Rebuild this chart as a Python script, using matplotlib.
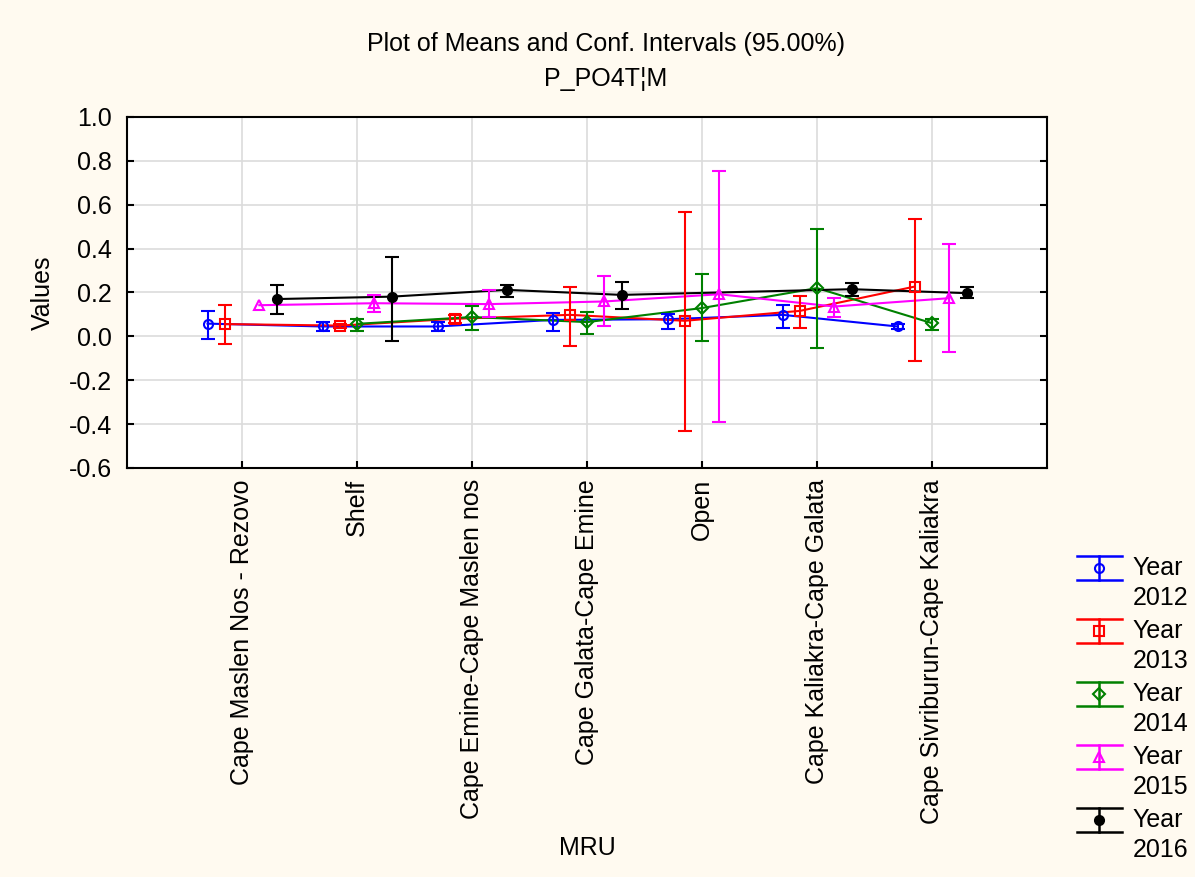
import numpy as np
import matplotlib
matplotlib.use('Agg')
import matplotlib.pyplot as plt
from matplotlib.legend_handler import HandlerBase
from matplotlib.container import ErrorbarContainer
from matplotlib.lines import Line2D

plt.rcParams['font.family'] = ['Liberation Sans', 'DejaVu Sans']

#категории и годы
mru = ['Cape Maslen Nos - Rezovo', 'Shelf', 'Cape Emine-Cape Maslen nos',
       'Cape Galata-Cape Emine', 'Open', 'Cape Kaliakra-Cape Galata',
       'Cape Sivriburun-Cape Kaliakra']
years = ['2012', '2013', '2014', '2015', '2016']
nan = np.nan

#средние значения
mean_2012 = [0.058, 0.045, 0.045, 0.075, 0.078, 0.098, 0.045]
mean_2013 = [0.056, 0.049, 0.080, 0.098, 0.071, 0.116, 0.227]
mean_2014 = [nan, 0.057, 0.088, 0.065, 0.129, 0.220, 0.060]
mean_2015 = [0.142, 0.151, 0.147, 0.159, 0.192, 0.136, 0.174]
mean_2016 = [0.170, 0.181, 0.212, 0.189, nan, 0.215, 0.197]

#нижние границы доверительного интервала
low_2012 = [-0.012, 0.024, 0.024, 0.026, 0.033, 0.037, 0.035]
low_2013 = [-0.036, 0.040, 0.062, -0.043, -0.431, 0.037, -0.112]
low_2014 = [nan, 0.026, 0.030, 0.011, -0.019, -0.051, 0.030]
low_2015 = [nan, 0.110, 0.086, 0.049, -0.391, 0.090, -0.071]
low_2016 = [0.103, -0.019, 0.179, 0.124, nan, 0.186, 0.174]

#верхние границы доверительного интервала
high_2012 = [0.115, 0.066, 0.067, 0.106, 0.103, 0.144, 0.055]
high_2013 = [0.143, 0.058, 0.098, 0.224, 0.569, 0.186, 0.535]
high_2014 = [nan, 0.080, 0.140, 0.110, 0.285, 0.490, 0.080]
high_2015 = [nan, 0.190, 0.212, 0.276, 0.754, 0.174, 0.420]
high_2016 = [0.235, 0.362, 0.235, 0.250, nan, 0.243, 0.227]

means = [mean_2012, mean_2013, mean_2014, mean_2015, mean_2016]
lows = [low_2012, low_2013, low_2014, low_2015, low_2016]
highs = [high_2012, high_2013, high_2014, high_2015, high_2016]

colors = ['#0000ff', '#ff0000', '#008000', '#ff00ff', '#000000']
markers = ['o', 's', 'D', '^', 'o']
faces = ['none', 'none', 'none', 'none', '#000000']
offsets = [-0.3, -0.15, 0.0, 0.15, 0.3]
fs = 18


class CapHandler(HandlerBase):
    #значок легенды: две широкие засечки, вертикальная линия и маркер
    def create_artists(self, legend, orig_handle, xdescent, ydescent, width, height, fontsize, trans):
        ln = orig_handle.lines[0]
        c = ln.get_markeredgecolor()
        x0 = -xdescent
        x1 = x0 + width
        cx = (x0 + x1) / 2
        cy = height / 2 - ydescent + fontsize * 0.62
        h = fontsize * 0.48
        arts = [Line2D([x0, x1], [cy + h, cy + h]), Line2D([x0, x1], [cy - h, cy - h]),
                Line2D([cx, cx], [cy - h, cy + h])]
        for a in arts:
            a.set_color(c)
            a.set_linewidth(1.8)
        arts.append(Line2D([cx], [cy], marker=ln.get_marker(), ls='none', mfc=ln.get_markerfacecolor(),
                           mec=c, ms=ln.get_markersize(), mew=1.5))
        for a in arts:
            a.set_transform(trans)
        return arts


fig = plt.figure(figsize=(11.95, 8.77), dpi=100, facecolor='#fffaf0')
ax = fig.add_axes([0.1063, 0.4664, 0.7699, 0.4002])
ax.set_facecolor('white')

pos = np.arange(1, len(mru) + 1)
for i in range(len(years)):
    m = np.array(means[i])
    lo = np.array(lows[i])
    hi = np.array(highs[i])
    x = pos + offsets[i]
    ok = ~np.isnan(m)
    #линия через все имеющиеся точки
    ax.plot(x[ok], m[ok], color=colors[i], lw=1.5, zorder=3)
    err = np.vstack([m - lo, hi - m])
    ax.errorbar(x[ok], m[ok], yerr=err[:, ok], fmt=markers[i], color=colors[i],
                mfc=faces[i], mec=colors[i], ms=6.5, mew=1.5, elinewidth=1.5,
                capsize=4.7, capthick=1.5, zorder=4, label='Year\n' + years[i])

ax.set_xlim(0, 8)
ax.set_ylim(-0.6, 1.0)
ax.set_yticks(np.arange(-0.6, 1.01, 0.2))
ax.set_yticklabels(['%.1f' % v for v in np.arange(-0.6, 1.01, 0.2)])
ax.set_xticks(pos)
ax.set_xticklabels(mru, rotation=90, fontsize=fs)
ax.tick_params(axis='y', labelsize=fs, pad=11)
ax.tick_params(axis='x', pad=8)
ax.tick_params(direction='in', length=5, width=1.5, right=True)
ax.grid(color='#dcdcdc', lw=1.2)
ax.set_axisbelow(True)
for s in ax.spines.values():
    s.set_linewidth(1.5)

ax.set_xlabel('MRU', fontsize=fs, labelpad=9)
ax.set_ylabel('Values', fontsize=fs, labelpad=10)
fig.text(0.507, 0.950, 'Plot of Means and Conf. Intervals (95.00%)', ha='center', va='center', fontsize=fs)
fig.text(0.507, 0.910, 'P_PO4T¦M', ha='center', va='center', fontsize=fs)

leg = fig.legend(loc='upper left', bbox_to_anchor=(0.901, 0.3656), frameon=False, fontsize=fs,
                 handlelength=1.8, handletextpad=0.44, labelspacing=0.37, borderpad=0,
                 borderaxespad=0, handler_map={ErrorbarContainer: CapHandler()})
for t in leg.get_texts():
    t.set_linespacing(1.3)

fig.savefig('out.png', dpi=100, facecolor=fig.get_facecolor())
